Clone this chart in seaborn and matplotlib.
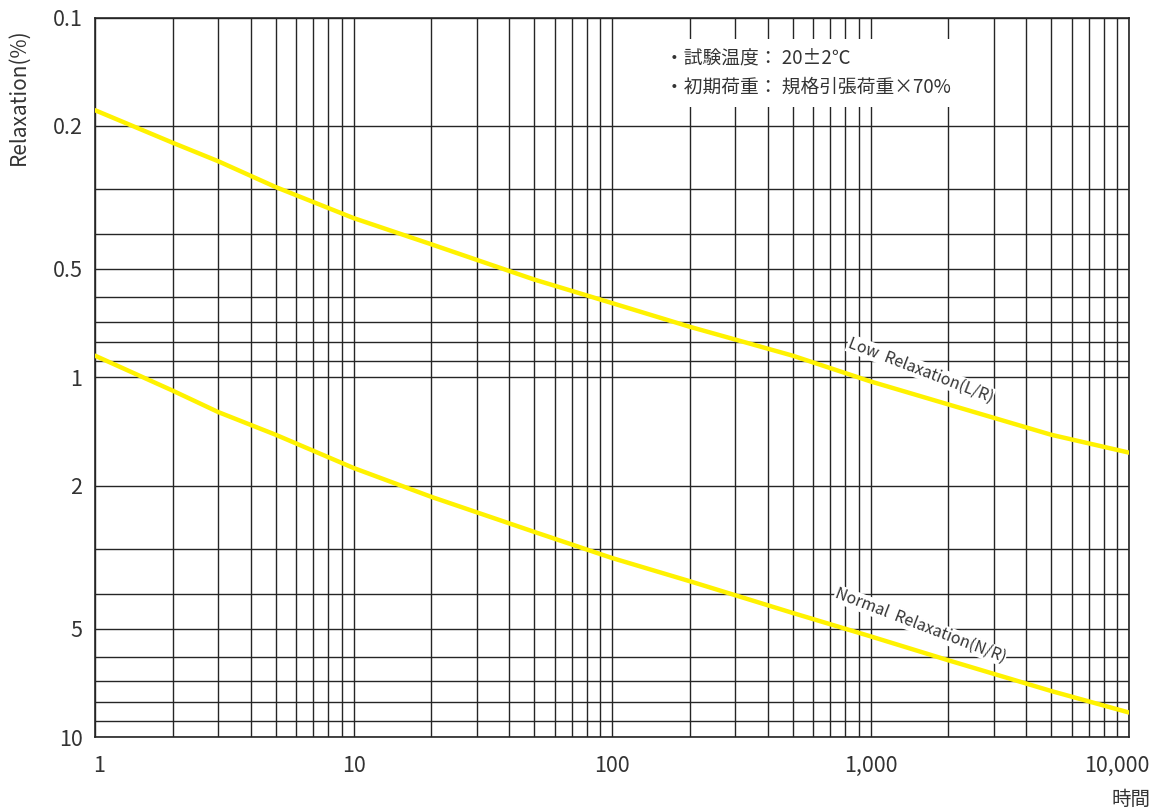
import numpy as np
import pandas as pd
import matplotlib
matplotlib.use("Agg")
import matplotlib.pyplot as plt
import matplotlib.transforms as mtransforms
from matplotlib.ticker import FixedLocator, NullFormatter
from matplotlib.patches import Rectangle
import seaborn as sns

# values
hours = [1, 2, 3, 5, 10, 20, 50, 100, 200, 500, 1000, 2000, 5000, 10000]
low_relax = [0.181, 0.223, 0.251, 0.296, 0.361, 0.427, 0.535, 0.622, 0.724, 0.871, 1.027, 1.19, 1.445, 1.62]
normal_relax = [0.871, 1.09, 1.25, 1.445, 1.787, 2.15, 2.69, 3.18, 3.69, 4.52, 5.25, 6.12, 7.45, 8.55]

x_ticks = [1, 10, 100, 1000, 10000]
x_tick_labels = ["1", "10", "100", "1,000", "10,000"]
y_ticks = [0.1, 0.2, 0.5, 1, 2, 5, 10]
y_tick_labels = ["0.1", "0.2", "0.5", "1", "2", "5", "10"]

note_lines = ["・試験温度： 20±2℃", "・初期荷重： 規格引張荷重×70%"]

df = pd.concat([
    pd.DataFrame({"hours": hours, "relax": low_relax, "kind": "L/R"}),
    pd.DataFrame({"hours": hours, "relax": normal_relax, "kind": "N/R"}),
])

sns.set_theme(style="white")
plt.rcParams["font.family"] = ["Noto Sans CJK JP", "DejaVu Sans"]

ink = "#252525"
txt = "#333333"

fig = plt.figure(figsize=(11.6, 8.1), dpi=100)
ax = fig.add_axes([95 / 1160, 1 - 737 / 810, 1034 / 1160, 719.5 / 810])

sns.lineplot(data=df, x="hours", y="relax", units="kind", estimator=None,
             color="#fff200", linewidth=3.2, ax=ax, zorder=3, legend=False)

ax.set_xscale("log")
ax.set_yscale("log")
ax.set_xlim(1, 10000)
ax.set_ylim(10, 0.1)

ax.xaxis.set_major_locator(FixedLocator(x_ticks))
ax.set_xticklabels(x_tick_labels)
ax.yaxis.set_major_locator(FixedLocator(y_ticks))
ax.set_yticklabels(y_tick_labels)
ax.xaxis.set_minor_locator(FixedLocator(
    [m * 10 ** d for d in range(4) for m in range(2, 10)]))
ax.yaxis.set_minor_locator(FixedLocator(
    [m * 10 ** d for d in range(-1, 1) for m in range(1, 10)]))
ax.xaxis.set_minor_formatter(NullFormatter())
ax.yaxis.set_minor_formatter(NullFormatter())

ax.set_axisbelow(True)
ax.grid(which="both", color=ink, linewidth=1.0)
ax.tick_params(which="both", length=0, labelsize=15.5, labelcolor=txt)
ax.tick_params(axis="x", pad=13)
ax.tick_params(axis="y", pad=9)
for s in ax.spines.values():
    s.set_color(ink)
    s.set_linewidth(1.2)

# nudge the end labels like the reference (1 a bit right, 10,000 pulled in)
xlabels = ax.get_xticklabels()
xlabels[0].set_transform(xlabels[0].get_transform()
                         + mtransforms.ScaledTranslation(0.04, 0, fig.dpi_scale_trans))
xlabels[-1].set_transform(xlabels[-1].get_transform()
                          + mtransforms.ScaledTranslation(-0.12, 0, fig.dpi_scale_trans))

ax.set_xlabel("")
ax.set_ylabel("")

# white box behind the test conditions note
ax.add_patch(Rectangle((0.537, 0.876), 0.30, 0.0945, transform=ax.transAxes,
                       facecolor="white", edgecolor="none", zorder=1.5))
ax.text(0.551, 0.944, note_lines[0], transform=ax.transAxes, fontsize=13.5,
        color=txt, va="center", ha="left", zorder=4)
ax.text(0.551, 0.903, note_lines[1], transform=ax.transAxes, fontsize=13.5,
        color=txt, va="center", ha="left", zorder=4)

ax.text(1560, 0.955, "Low  Relaxation(L/R)", fontsize=11.5, color=txt,
        rotation=-21, ha="center", va="center", rotation_mode="anchor", zorder=4,
        bbox=dict(facecolor="white", edgecolor="none", pad=0.5))
ax.text(1560, 4.9, "Normal  Relaxation(N/R)", fontsize=11.5, color=txt,
        rotation=-21, ha="center", va="center", rotation_mode="anchor", zorder=4,
        bbox=dict(facecolor="white", edgecolor="none", pad=0.5))

fig.text(19 / 1160, 1 - 97 / 810, "Relaxation(%)", rotation=90, fontsize=15,
         color=txt, ha="center", va="center")
fig.text(1131 / 1160, 1 - 799 / 810, "時間", fontsize=14, color=txt,
         ha="center", va="center")

fig.savefig("out.png", dpi=100)
